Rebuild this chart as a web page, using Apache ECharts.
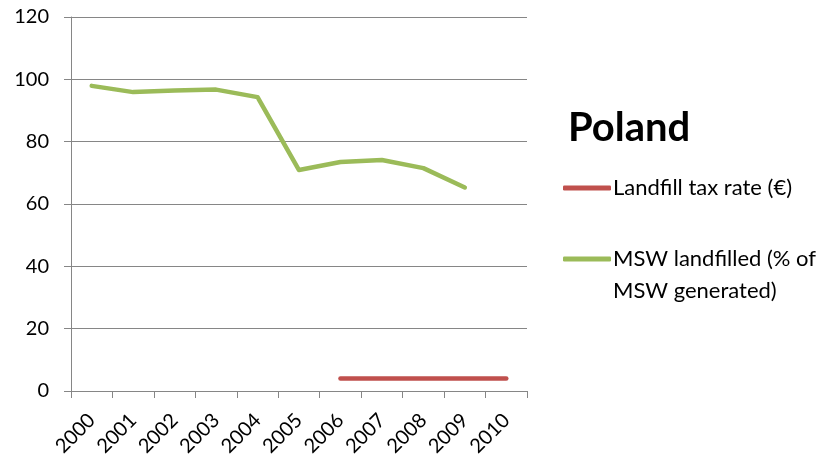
<!DOCTYPE html>
<html>
<head>
<meta charset="utf-8">
<script src="https://cdn.jsdelivr.net/npm/echarts@6/dist/echarts.min.js"></script>
<style>
  html, body { margin: 0; padding: 0; background: #fff; }
  #chart { width: 823px; height: 460px; }
</style>
</head>
<body>
<div id="chart"></div>
<script>
// Landfill indicators for Poland, 2000-2010
const years = ['2000', '2001', '2002', '2003', '2004', '2005', '2006', '2007', '2008', '2009', '2010'];
const taxRate = [null, null, null, null, null, null, 4, 4, 4, 4, 4];
const mswLandfilled = [97.9, 95.9, 96.4, 96.7, 94.3, 70.9, 73.5, 74.1, 71.5, 65.3, null];
const yTicks = { min: 0, max: 120, interval: 20 };

const taxName = 'Landfill tax rate (€)';
const mswName = 'MSW landfilled (% of MSW generated)';
const font = 'Lato, "Open Sans", sans-serif';
const axisGrey = '#868686';

const chart = echarts.init(document.getElementById('chart'), null, { renderer: 'canvas' });
chart.setOption({
  animation: false,
  title: {
    text: 'Poland',
    left: 563,
    top: 103,
    textStyle: { fontFamily: font, fontWeight: 'bold', fontSize: 40, color: '#000' }
  },
  legend: {
    orient: 'vertical',
    left: 558,
    top: 167,
    itemGap: 7,
    itemWidth: 48,
    itemHeight: 5,
    icon: 'roundRect',
    data: [taxName, mswName],
    formatter: function (name) {
      // the second entry wraps onto two lines, with its marker beside the first
      return name === mswName ? '\nMSW landfilled (% of\nMSW generated)' : name;
    },
    textStyle: { fontFamily: font, fontSize: 22, color: '#000', lineHeight: 32, padding: [0, 0, 0, -3] }
  },
  grid: { left: 71, right: 296, top: 17, bottom: 69, containLabel: false },
  xAxis: {
    type: 'category',
    data: years,
    boundaryGap: true,
    axisLine: { lineStyle: { color: axisGrey, width: 1 } },
    axisTick: { show: true, length: 7, alignWithLabel: false, lineStyle: { color: axisGrey } },
    axisLabel: { rotate: 45, fontFamily: font, fontSize: 20, color: '#000', margin: 26, interval: 0 },
    splitLine: { show: false }
  },
  yAxis: {
    type: 'value',
    min: yTicks.min,
    max: yTicks.max,
    interval: yTicks.interval,
    axisLine: { show: true, lineStyle: { color: axisGrey, width: 1 } },
    axisTick: { show: true, length: 7, lineStyle: { color: axisGrey } },
    axisLabel: { fontFamily: font, fontSize: 20, color: '#000', margin: 22 },
    splitLine: { show: true, lineStyle: { color: axisGrey, width: 1 } }
  },
  series: [
    {
      name: taxName,
      type: 'line',
      data: taxRate,
      symbol: 'none',
      connectNulls: false,
      lineStyle: { color: '#c0504d', width: 4.5, cap: 'round', join: 'round' },
      itemStyle: { color: '#c0504d' }
    },
    {
      name: mswName,
      type: 'line',
      data: mswLandfilled,
      symbol: 'none',
      connectNulls: false,
      lineStyle: { color: '#9bbb59', width: 4.5, cap: 'round', join: 'round' },
      itemStyle: { color: '#9bbb59' }
    }
  ]
});
</script>
</body>
</html>
